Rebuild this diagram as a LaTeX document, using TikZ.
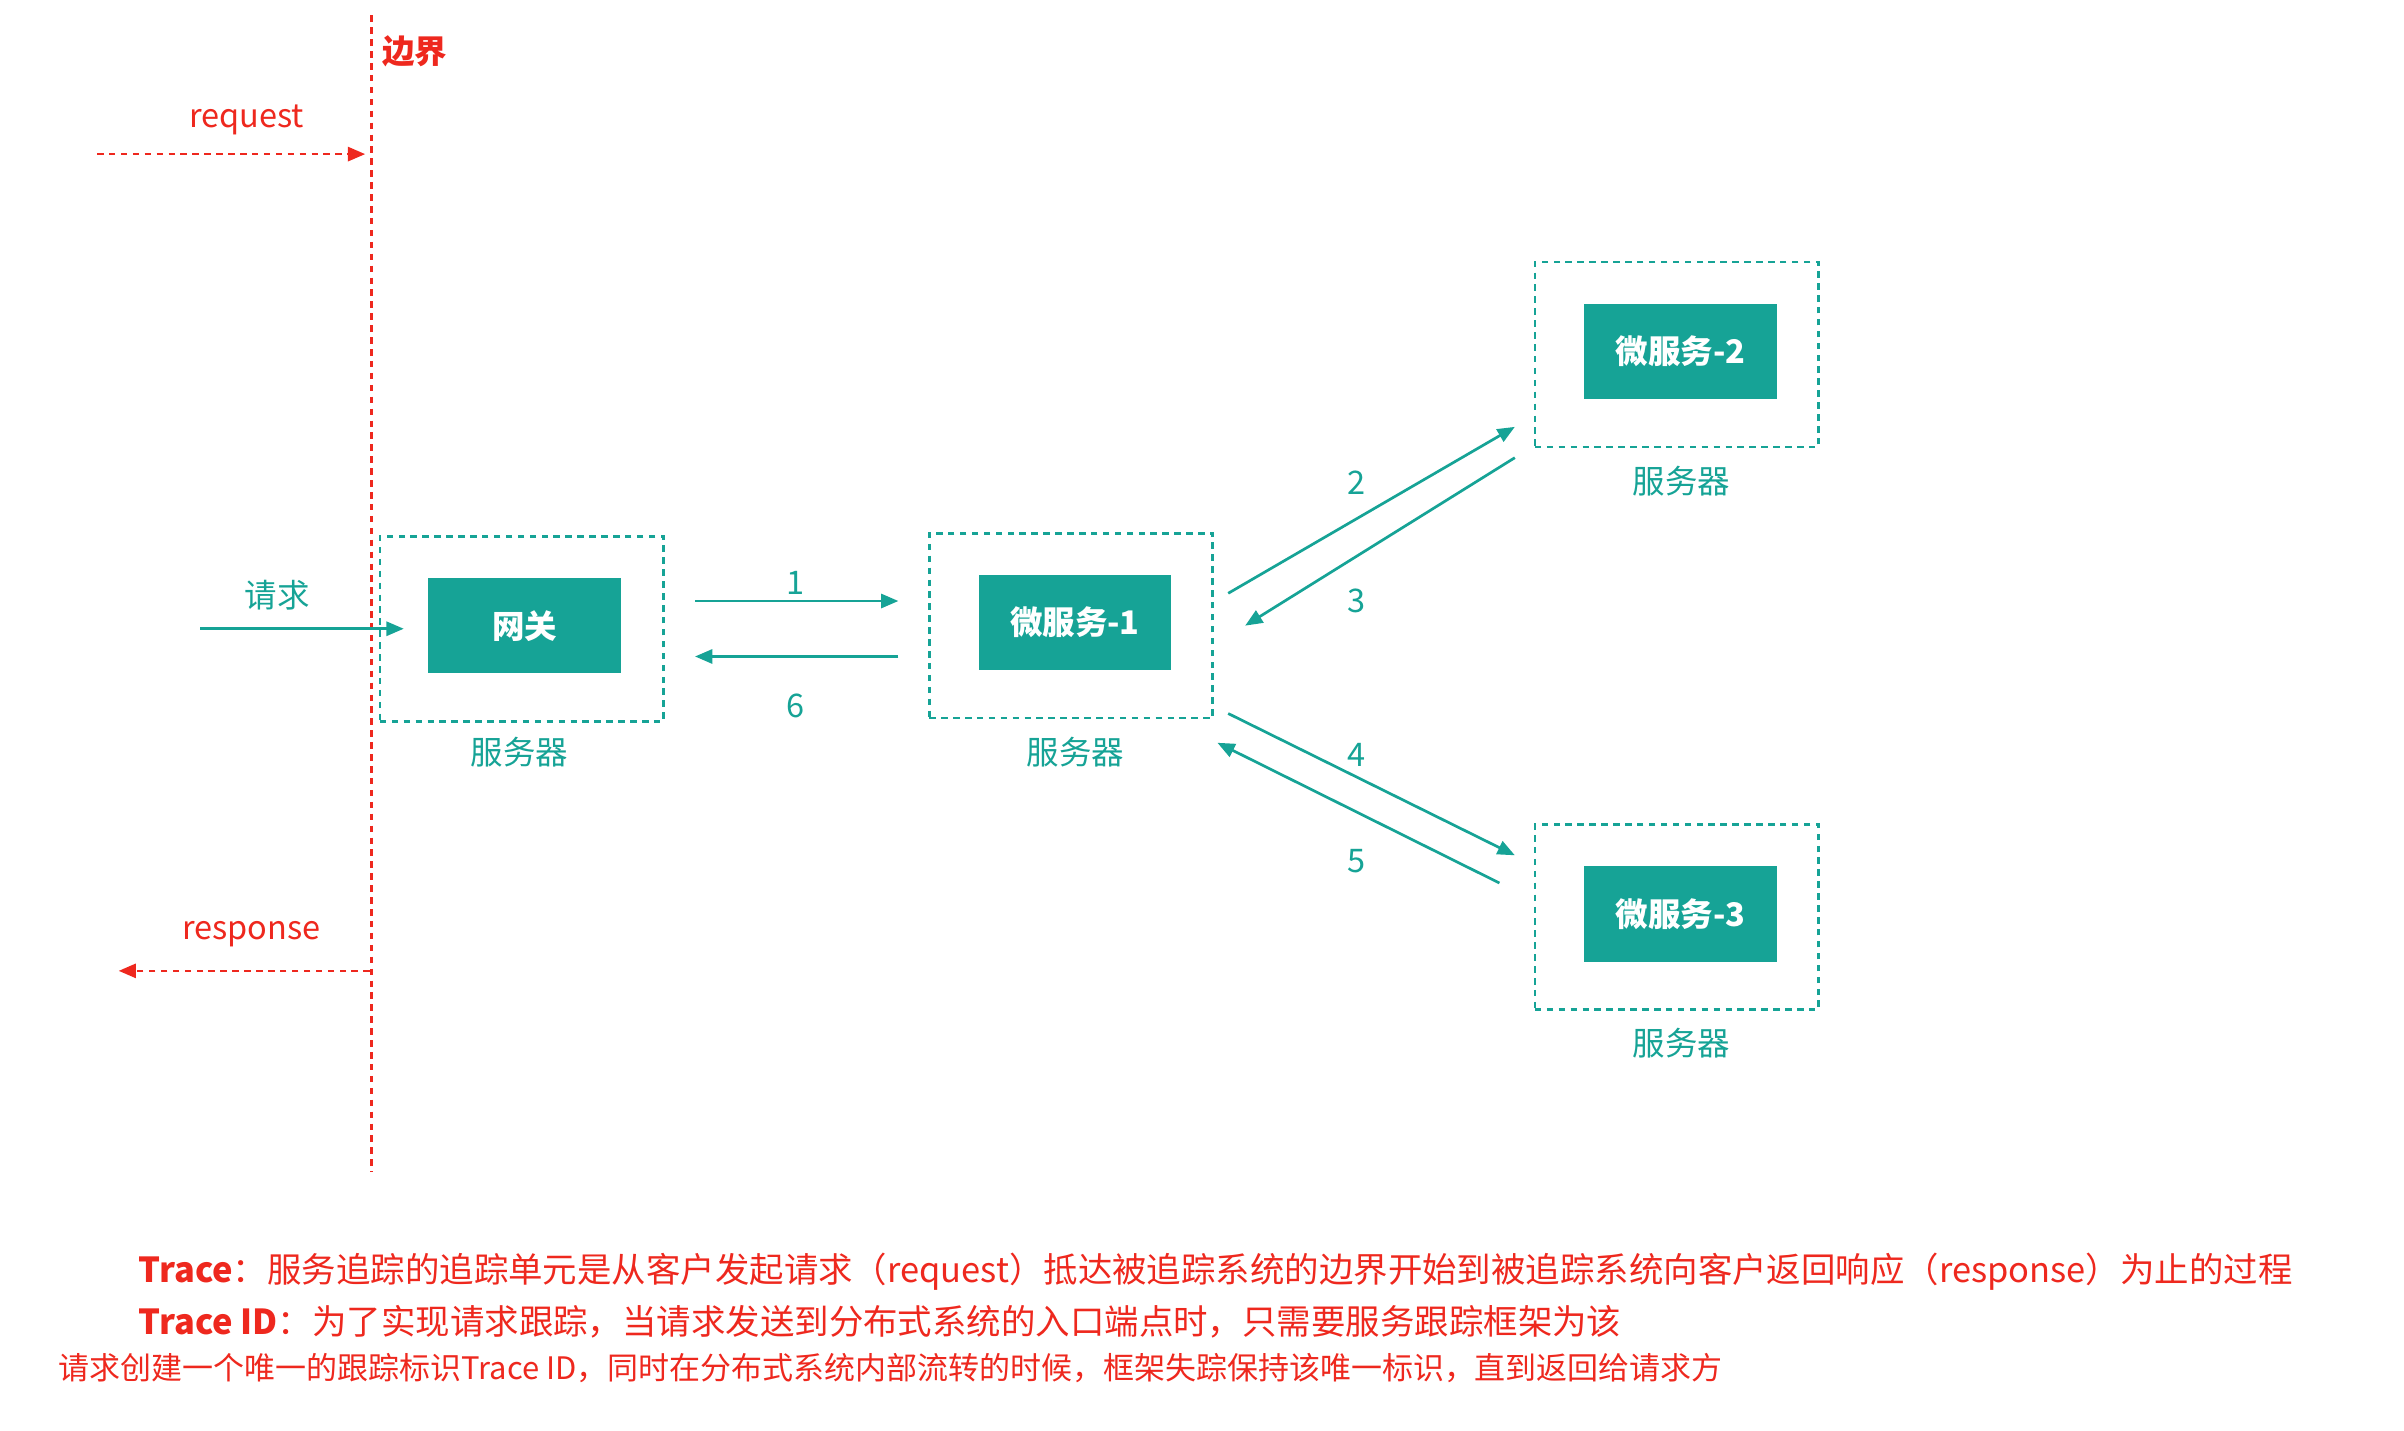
\documentclass[tikz,border=0pt]{standalone}
\usepackage{fontspec}
\setmainfont{Noto Sans CJK SC}
\usetikzlibrary{arrows.meta}
\definecolor{teal1}{RGB}{22,163,150}
\definecolor{red1}{RGB}{238,40,30}
\begin{document}
\begin{tikzpicture}[x=0.05cm,y=-0.05cm,
 box/.style={fill=teal1,text=white,font=\fontsize{30}{36}\selectfont\bfseries,minimum width=6.25cm,minimum height=3.1cm,inner sep=0},
 frame/.style={draw=teal1,dash pattern=on 6pt off 5pt,line width=2.5pt,minimum width=9.2cm,minimum height=6cm,inner sep=0},
 tl/.style={text=teal1,font=\fontsize{30}{36}\selectfont},
 rl/.style={text=red1,font=\fontsize{30}{36}\selectfont},
 ta/.style={draw=teal1,line width=2.5pt,-{Triangle[length=16pt,width=13pt]}},
 ra/.style={draw=red1,line width=2.5pt,dash pattern=on 6pt off 5pt,-{Triangle[length=16pt,width=13pt]}}]
\useasboundingbox (0,0) rectangle (1560,928);
% boundary
\coordinate (bt) at (241,10); \coordinate (bb) at (241,760);
\draw[red1,line width=2.5pt,dash pattern=on 6pt off 5pt] (bt)--(bb);
\node[rl,font=\fontsize{30}{36}\selectfont\bfseries] (bj) at (269,33) {边界};
\node[rl] (req) at (160,78) {request};
\coordinate (rq1) at (63,100); \coordinate (rq2) at (237,100);
\draw[ra] (rq1)--(rq2);
\node[rl] (resp) at (163,606) {response};
\coordinate (rs1) at (240,630); \coordinate (rs2) at (77,630);
\draw[ra] (rs1)--(rs2);
% boxes
\node[frame] (f0) at (338.5,408) {}; \node[box] (gw) at (340.5,406) {网关};
\node[tl] (l0) at (337,488) {服务器};
\node[frame] (f1) at (695,406) {}; \node[box] (m1) at (697.5,404) {微服务-1};
\node[tl] (l1) at (698,488) {服务器};
\node[frame] (f2) at (1088,230) {}; \node[box] (m2) at (1090.5,228) {微服务-2};
\node[tl] (l2) at (1091,312) {服务器};
\node[frame] (f3) at (1088,595) {}; \node[box] (m3) at (1090.5,593) {微服务-3};
\node[tl] (l3) at (1091,677) {服务器};
% arrows
\coordinate (q0) at (130,408); \coordinate (q1) at (262,408);
\draw[ta] (q0)--(q1); \node[tl] (qt) at (180,386) {请求};
\coordinate (a1) at (451,390); \coordinate (b1) at (583,390);
\draw[ta] (a1)--(b1); \node[tl] (n1) at (516,378) {1};
\coordinate (a6) at (583,426); \coordinate (b6) at (451,426);
\draw[ta] (a6)--(b6); \node[tl] (n6) at (516,458) {6};
\coordinate (a2) at (797,385); \coordinate (b2) at (983,277);
\draw[ta] (a2)--(b2); \node[tl] (n2) at (880,313) {2};
\coordinate (a3) at (983,297); \coordinate (b3) at (808,406);
\draw[ta] (a3)--(b3); \node[tl] (n3) at (880,390) {3};
\coordinate (a4) at (797,463); \coordinate (b4) at (983,555);
\draw[ta] (a4)--(b4); \node[tl] (n4) at (880,490) {4};
\coordinate (a5) at (973,573); \coordinate (b5) at (790,482);
\draw[ta] (a5)--(b5); \node[tl] (n5) at (880,559) {5};
% text
\node[rl,anchor=west,font=\fontsize{31.8}{36}\selectfont,inner sep=0] (t1) at (90,825) {\textbf{Trace}：服务追踪的追踪单元是从客户发起请求（request）抵达被追踪系统的边界开始到被追踪系统向客户返回响应（response）为止的过程};
\node[rl,anchor=west,font=\fontsize{31.8}{36}\selectfont,inner sep=0] (t2) at (90,858) {\textbf{Trace ID}：为了实现请求跟踪，当请求发送到分布式系统的入口端点时，只需要服务跟踪框架为该};
\node[rl,anchor=west,font=\fontsize{28.6}{32}\selectfont,inner sep=0] (t3) at (38,888) {请求创建一个唯一的跟踪标识Trace ID，同时在分布式系统内部流转的时候，框架失踪保持该唯一标识，直到返回给请求方};
\end{tikzpicture}
\end{document}
